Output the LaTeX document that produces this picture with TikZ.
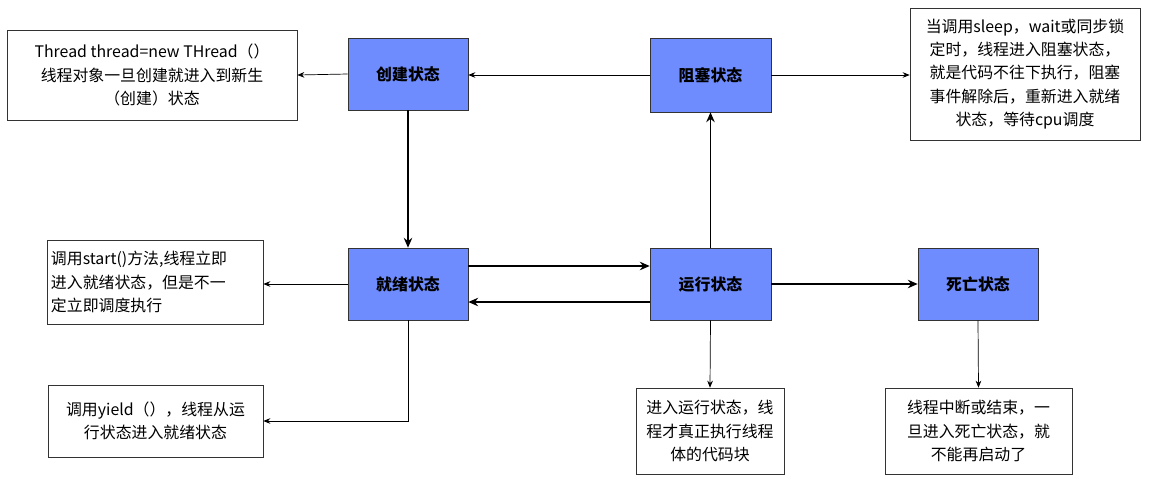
\documentclass[tikz,border=0pt]{standalone}
\usepackage{fontspec}
\setmainfont{Noto Sans CJK SC}
\usetikzlibrary{arrows.meta}
\definecolor{boxblue}{HTML}{6F8CFF}
\begin{document}
\begin{tikzpicture}[x=0.025cm,y=-0.025cm,
  st/.style={draw=black!80,fill=boxblue,minimum width=3cm,minimum height=1.8cm,inner sep=0pt,font=\fontsize{11.3}{14}\selectfont\bfseries},
  note/.style={draw=black!80,fill=white,inner sep=0pt,font=\fontsize{11.3}{16.5}\selectfont,align=center},
  thin/.style={-{Stealth[length=5pt,width=4pt]},line width=0.5pt},
  thick/.style={-{Stealth[length=7pt,width=6pt]},line width=1.4pt}]
\useasboundingbox (0,0) rectangle (1153,482);
\node[st] (cj) at (408,74) {创建状态};
\node[st,minimum width=3.025cm,minimum height=1.85cm] (zs) at (710.5,75) {阻塞状态};
\node[st] (jx) at (408,284) {就绪状态};
\node[st,minimum width=3.025cm] (yx) at (710.5,284) {运行状态};
\node[st] (sw) at (978,284) {死亡状态};
\node[note,minimum width=7.25cm,minimum height=2.25cm] (n1) at (152,75) {Thread thread=new THread（）\\线程对象一旦创建就进入到新生\\（创建）状态};
\node[note,minimum width=5.75cm,minimum height=3.3cm] (n2) at (1025,74) {当调用sleep，wait或同步锁\\定时，线程进入阻塞状态，\\就是代码不往下执行，阻塞\\事件解除后，重新进入就绪\\状态，等待cpu调度};
\node[note,minimum width=5.4cm,minimum height=2.1cm,align=left,text width=5.2cm] (n3) at (155,282) {调用start()方法,线程立即\\进入就绪状态，但是不一\\定立即调度执行};
\node[note,minimum width=5.375cm,minimum height=1.8cm] (n4) at (155.5,421) {调用yield（），线程从运\\行状态进入就绪状态};
\node[note,minimum width=3.7cm,minimum height=2.15cm] (n5) at (710,431) {进入运行状态，线\\程才真正执行线程\\体的代码块};
\node[note,minimum width=4.675cm,minimum height=2.15cm] (n6) at (978.5,431) {线程中断或结束，一\\旦进入死亡状态，就\\不能再启动了};
\draw[thin] (cj.west) -- (n1.east);
\draw[thin] (zs.west) -- (cj.east|-zs.west);
\draw[thin] (zs.east) -- (n2.west|-zs.east);
\draw[thick] (cj.south) -- (jx.north);
\draw[thick] (yx.north) -- (zs.south);
\draw[thick] ([yshift=0.45cm]jx.east) -- ([yshift=0.45cm]yx.west);
\draw[thick] ([yshift=-0.45cm]yx.west) -- ([yshift=-0.45cm]jx.east);
\draw[thick] (yx.east) -- (sw.west);
\draw[thin] (jx.west) -- (n3.east|-jx.west);
\draw[thin] (jx.south) |- (n4.east);
\draw[thin] (yx.south) -- (n5.north);
\draw[thin] (sw.south) -- (n6.north);
\end{tikzpicture}
\end{document}
